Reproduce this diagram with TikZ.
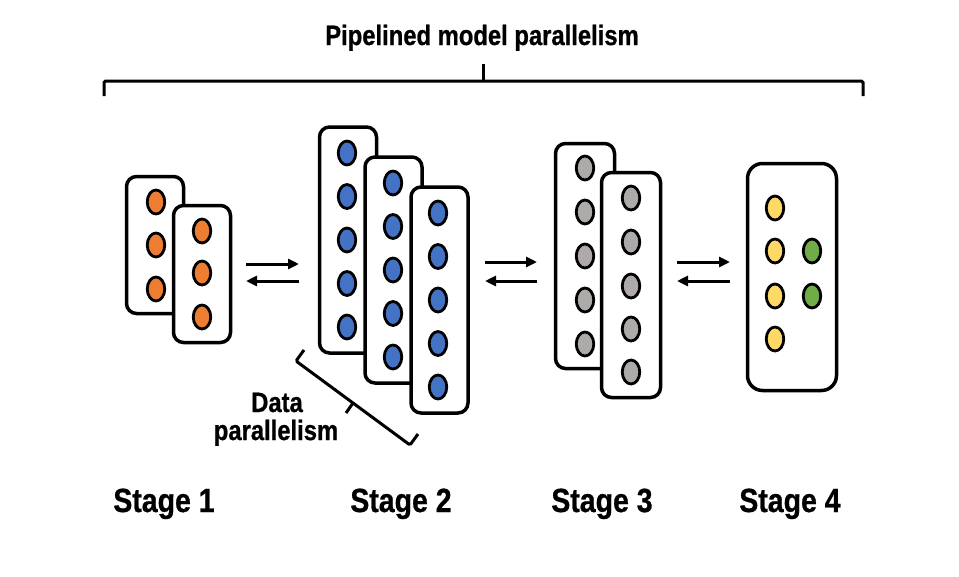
\documentclass[tikz,border=0pt]{standalone}
\usepackage{fontspec}
\newfontfamily\labelfont[FakeStretch=0.85, BoldFeatures={FakeBold=0.8}]{Liberation Sans}
\usetikzlibrary{shapes.geometric,arrows.meta,positioning}
\definecolor{unitorange}{HTML}{ED7D31}
\definecolor{unitblue}{HTML}{4472C4}
\definecolor{unitgray}{HTML}{AEAAAA}
\definecolor{unityellow}{HTML}{FFD966}
\definecolor{unitgreen}{HTML}{70AD47}
\tikzset{
	layer/.style={draw, line width=3.5pt, rounded corners=10pt, fill=white, minimum width=57pt, inner sep=0pt},
	unit/.style={ellipse, draw, line width=2.8pt, minimum width=17.5pt, minimum height=24pt, inner sep=0pt},
	flow/.style={line width=3pt, -{Triangle[length=11pt,width=10pt]}},
	bracket/.style={line width=3pt, rounded corners=1.5pt},
	dplabel/.style={anchor=base, inner sep=0pt, font=\labelfont\bfseries\fontsize{28}{28}\selectfont},
	stagelabel/.style={anchor=base, inner sep=0pt, font=\labelfont\bfseries\fontsize{33.5}{40}\selectfont}
}
\begin{document}
\begin{tikzpicture}[x=1pt, y=-1pt]
		\useasboundingbox (0, 0) rectangle (959, 576);
		% stage 1
		\node[layer, minimum height=137pt] (s1a) at (155, 245) {};
		\foreach \y [count=\i] in {202, 245, 289} \node[unit, fill=unitorange] (s1a\i) at (156, \y) {};
		\node[layer, minimum height=137pt] (s1b) at (202, 274) {};
		\foreach \y [count=\i] in {231, 273, 317} \node[unit, fill=unitorange] (s1b\i) at (202, \y) {};
		% stage 2
		\node[layer, minimum height=226pt] (s2a) at (348, 240) {};
		\foreach \y [count=\i] in {153, 196.5, 240, 283.5, 327} \node[unit, fill=unitblue] (s2a\i) at (347, \y) {};
		\node[layer, minimum height=226pt] (s2b) at (393.5, 270) {};
		\foreach \y [count=\i] in {183, 226.5, 270, 313.5, 357} \node[unit, fill=unitblue] (s2b\i) at (393, \y) {};
		\node[layer, minimum height=226pt] (s2c) at (439.5, 300) {};
		\foreach \y [count=\i] in {213, 256.5, 300, 343.5, 387} \node[unit, fill=unitblue] (s2c\i) at (438, \y) {};
		% stage 3
		\node[layer, minimum height=225pt, minimum width=59pt] (s3a) at (585, 256) {};
		\foreach \y [count=\i] in {168, 212, 256, 300, 344} \node[unit, fill=unitgray] (s3a\i) at (585, \y) {};
		\node[layer, minimum height=225pt, minimum width=59pt] (s3b) at (631, 285) {};
		\foreach \y [count=\i] in {198, 242, 286, 329, 372} \node[unit, fill=unitgray] (s3b\i) at (631, \y) {};
		% stage 4
		\node[layer, rounded corners=15pt, minimum width=89pt, minimum height=227pt] (s4) at (792, 277) {};
		\foreach \y [count=\i] in {208, 251, 296, 339} \node[unit, fill=unityellow] (s4y\i) at (775, \y) {};
		\foreach \y [count=\i] in {251, 296} \node[unit, fill=unitgreen] (s4g\i) at (812, \y) {};
		% forward / backward passes
		\coordinate (f12a) at (246, 264); \coordinate (f12b) at (299, 264);
		\coordinate (b12a) at (299, 281); \coordinate (b12b) at (246, 281);
		\coordinate (f23a) at (485, 262); \coordinate (f23b) at (537, 262);
		\coordinate (b23a) at (537, 281); \coordinate (b23b) at (485, 281);
		\coordinate (f34a) at (677, 262); \coordinate (f34b) at (730, 262);
		\coordinate (b34a) at (730, 281); \coordinate (b34b) at (677, 281);
		\draw[flow] (f12a) -- (f12b);
		\draw[flow] (b12a) -- (b12b);
		\draw[flow] (f23a) -- (f23b);
		\draw[flow] (b23a) -- (b23b);
		\draw[flow] (f34a) -- (f34b);
		\draw[flow] (b34a) -- (b34b);
		% pipelined model parallelism
		\draw[bracket] (104, 96) -- (104, 81) -- (863, 81) -- (863, 96);
		\draw[line width=3pt] (483, 81) -- (483, 64);
		\node[anchor=base, inner sep=0pt, font=\labelfont\bfseries\fontsize{28}{32}\selectfont] (title) at (482, 45) {Pipelined model parallelism};
		% data parallelism
		\draw[bracket] (304, 350) -- (296, 361) -- (410, 445) -- (418, 434);
		\draw[line width=3pt] (353, 403) -- (346, 413);
		\node[dplabel] (dp1) at (277, 412) {Data};
		\node[dplabel] (dp2) at (276, 440) {parallelism};
		% stage labels
		\node[stagelabel] (l1) at (164, 512) {Stage 1};
		\node[stagelabel] (l2) at (401, 512) {Stage 2};
		\node[stagelabel] (l3) at (602, 512) {Stage 3};
		\node[stagelabel] (l4) at (790, 512) {Stage 4};
	\end{tikzpicture}
\end{document}
